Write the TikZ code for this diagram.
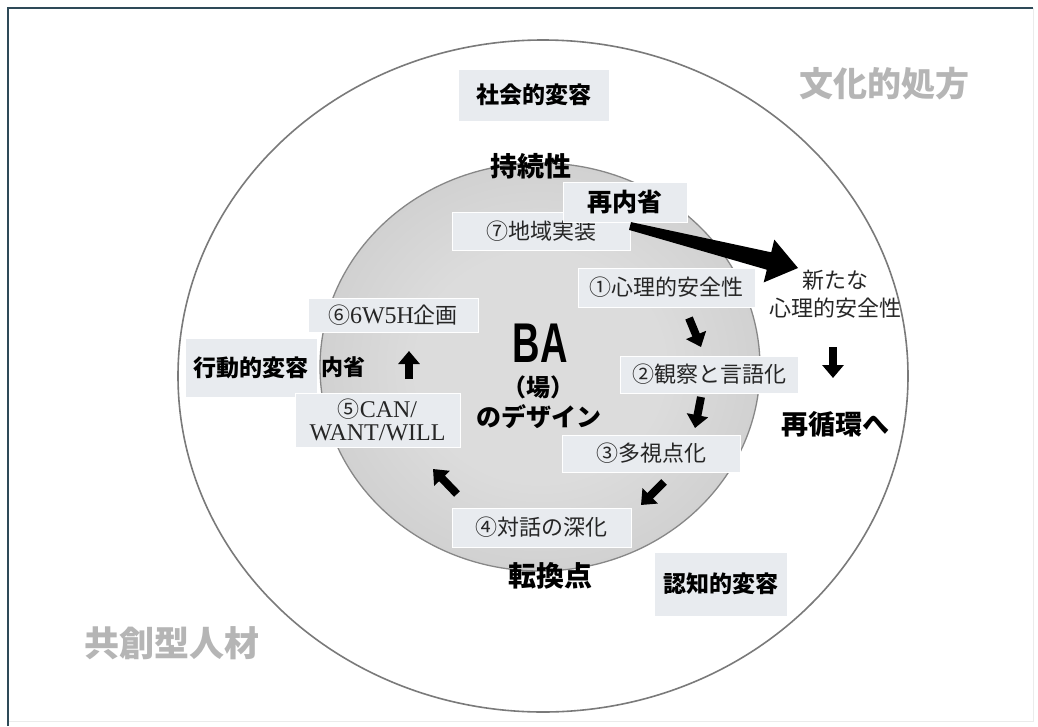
\documentclass[tikz,border=0pt]{standalone}
\usepackage{fontspec}
\usetikzlibrary{arrows.meta}
\newfontfamily\jp{Noto Sans CJK JP}
\newfontfamily\lser{Liberation Serif}
\newfontfamily\lsans{Liberation Sans}
\definecolor{boxfill}{HTML}{E8EBEF}
\definecolor{framec}{HTML}{2E4A58}
\definecolor{ghost}{HTML}{B5B5B5}
\definecolor{ringline}{HTML}{7A7A7A}
\definecolor{bain}{HTML}{DCDCDC}
\definecolor{baout}{HTML}{B8B8B8}
\pgfdeclareradialshading{bashade}{\pgfpoint{0bp}{0bp}}{color(0bp)=(bain); color(14bp)=(bain); color(50bp)=(baout)}
\newcommand\fsz[1]{\fontsize{#1pt}{#1pt}\selectfont}
\begin{document}
\begin{tikzpicture}[x=1pt,y=-1pt,
  lbox/.style={fill=boxfill, draw=white, line width=1pt, inner sep=0pt, text=black!85, align=center},
  boldlbl/.style={font=\jp\bfseries\fsz{#1}, text=black, inner sep=0pt},
  reglbl/.style={font=\jp\fsz{22}, text=black!85},
  ghostlbl/.style={font=\jp\bfseries\fsz{34}, text=ghost, inner sep=0pt},
  blockarrow/.style={line width=8pt, black, -{Triangle[width=21pt,length=13pt]}},
]
\useasboundingbox (0,0) rectangle (1038,726);
\fill[white] (0,0) rectangle (1038,726);
% frame
\draw[black!8, line width=1pt] (1033,8) -- (1033,721) -- (8,721);
\draw[framec, line width=2.2pt] (8,726) -- (8,8) -- (1033,8);

% ellipses
\draw[ringline, line width=1.6pt] (543,376) ellipse [x radius=365pt, y radius=336pt];
\shade[shading=bashade] (540,367) ellipse [x radius=220pt, y radius=204pt];
\draw[ringline!90, line width=1.3pt] (540,367) ellipse [x radius=220pt, y radius=204pt];

% ghost labels
\node[ghostlbl] (bunka) at (884,84) {文化的処方};
\node[ghostlbl, font=\jp\bfseries\fsz{35}] (kyoso) at (172,643) {共創型人材};

% transformation boxes
\node[lbox, minimum width=151pt, minimum height=52pt, font=\jp\bfseries\fsz{23}, text=black] (shakai) at (533.5,95) {社会的変容};
\node[lbox, minimum width=132pt, minimum height=59pt, font=\jp\bfseries\fsz{23}, text=black] (kodo) at (251,367.5) {行動的変容};
\node[lbox, minimum width=133pt, minimum height=64pt, font=\jp\bfseries\fsz{23}, text=black] (ninchi) at (720.5,584) {認知的変容};

% bold labels
\node[boldlbl=27] (jizoku) at (531,166) {持続性};
\node[boldlbl=28] (tenkan) at (550,576) {転換点};
\node[boldlbl=22] (naisei) at (343,367) {内省};
\node[boldlbl=27] (junkan) at (835,424) {再循環へ};

% step boxes
\node[lbox, minimum width=178pt, minimum height=38pt, font=\jp\fsz{22}] (s7) at (541,231) {⑦地域実装};
\node[lbox, minimum width=124pt, minimum height=40pt, font=\jp\bfseries\fsz{25}, text=black] (sainai) at (625,202) {再内省};
\node[lbox, minimum width=177pt, minimum height=39pt, font=\jp\fsz{22}] (s1) at (666.5,287.5) {①心理的安全性};
\node[lbox, minimum width=178pt, minimum height=37pt, font=\jp\fsz{22}] (s2) at (709,374.5) {②観察と言語化};
\node[lbox, minimum width=178pt, minimum height=37pt, font=\jp\fsz{22}] (s3) at (651,453.5) {③多視点化};
\node[lbox, minimum width=179pt, minimum height=39pt, font=\jp\fsz{22}] (s4) at (541.5,527.5) {④対話の深化};
\node[lbox, minimum width=165pt, minimum height=54pt, font=\jp\fsz{22}] (s5) at (377.5,420) {⑤{\lser\fsz{24}CAN/}\\[1pt]{\lser\fsz{24}WANT/WILL}};
\node[lbox, minimum width=170pt, minimum height=34pt, font=\jp\fsz{22}] (s6) at (393,315) {⑥{\lser\fsz{24}6W5H}企画};

% center title
\node[inner sep=0pt] (ba) at (540,343) {\scalebox{0.68}[1]{\lsans\bfseries\fsz{56}BA}};
\node[boldlbl=24] (ba2) at (538,387) {（場）};
\node[boldlbl=25] (ba3) at (539,417) {のデザイン};

% new psychological safety
\node[font=\jp\fsz{22}, text=black!85, align=center, inner sep=0pt] (arata) at (835,294) {新たな\\[6pt]心理的安全性};

% big arrow
\fill[black] (631,222.1) -- (771.2,252.3) -- (774.3,239.6) -- (798,268) -- (763.7,282.4) -- (766.8,269.7) -- (629,229.9) -- cycle;

% small block arrows
\coordinate (a1s) at (689,318); \coordinate (a1e) at (701,347);
\coordinate (a2s) at (701,397); \coordinate (a2e) at (695,428);
\coordinate (a3s) at (664,482); \coordinate (a3e) at (641,505);
\coordinate (a4s) at (457,494); \coordinate (a4e) at (433,469);
\coordinate (a5s) at (409,379); \coordinate (a5e) at (409,351);
\coordinate (a6s) at (833,347); \coordinate (a6e) at (833,378);
\draw[blockarrow] (a1s) -- (a1e);
\draw[blockarrow] (a2s) -- (a2e);
\draw[blockarrow] (a3s) -- (a3e);
\draw[blockarrow] (a4s) -- (a4e);
\draw[blockarrow] (a5s) -- (a5e);
\draw[blockarrow] (a6s) -- (a6e);
\end{tikzpicture}
\end{document}
